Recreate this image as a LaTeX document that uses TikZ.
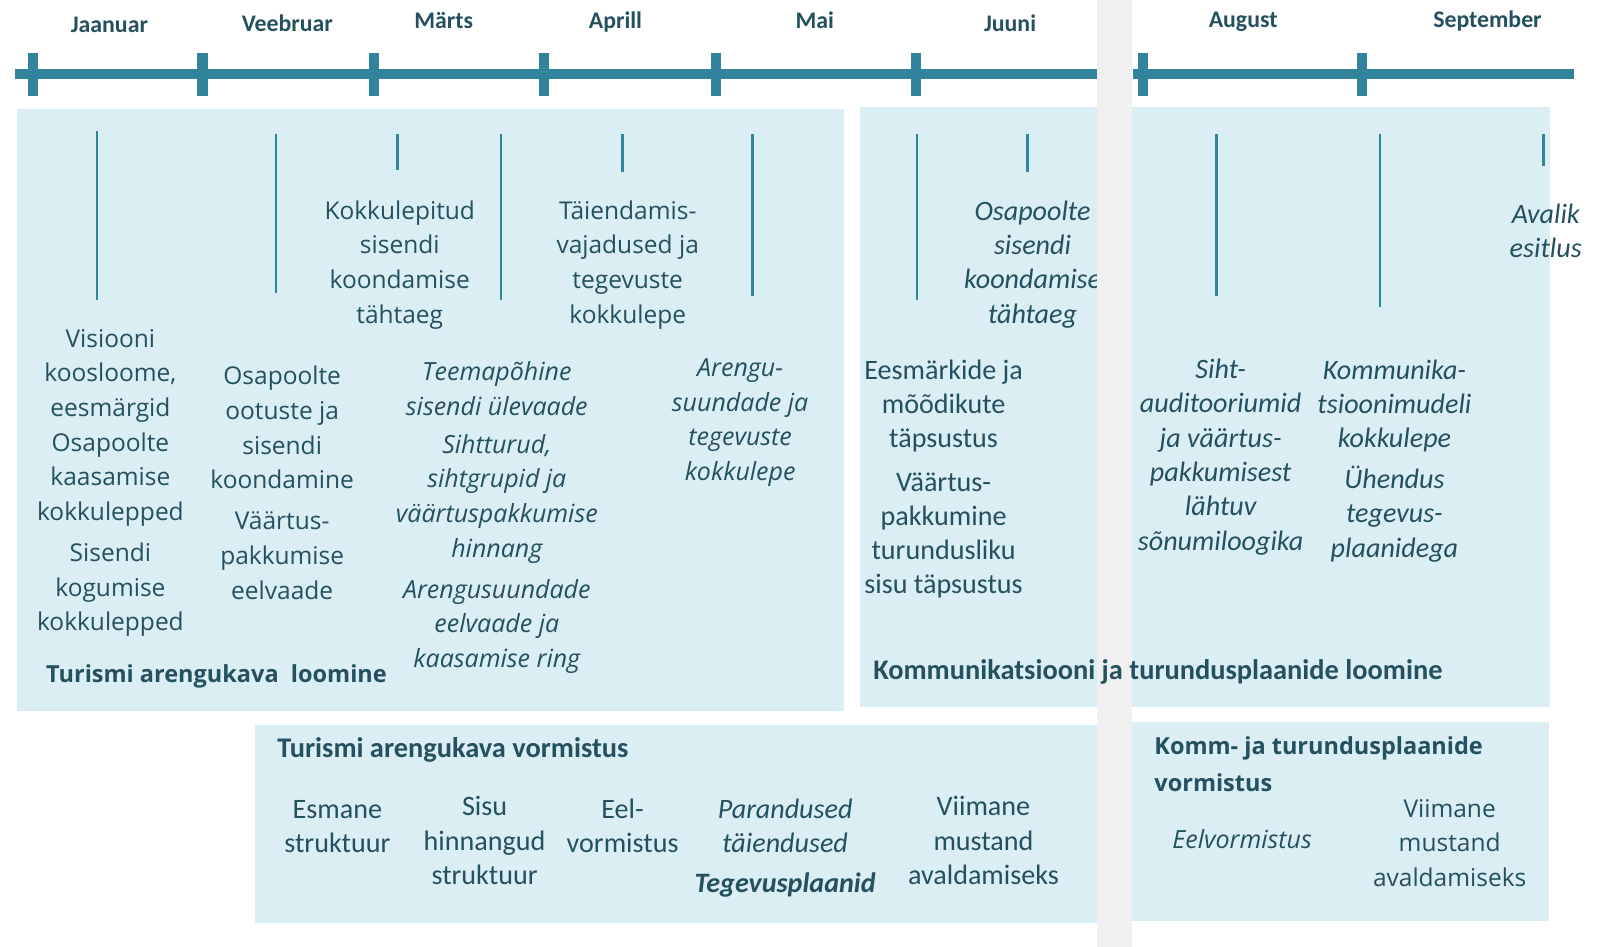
\documentclass[tikz,border=0pt]{standalone}
\usepackage{fontspec}
\setmainfont{Open Sans}
\newfontfamily\calfont{Carlito}
\usepackage{xcolor}
\usepackage{tikz}
\definecolor{barteal}{HTML}{31849B}
\definecolor{boxblue}{HTML}{DAEEF3}
\definecolor{bandgray}{HTML}{F0F0F0}
\definecolor{inktext}{HTML}{24505F}

\begin{document}
\begin{tikzpicture}[x=1.0223pt,y=-1.0223pt,
		every node/.style={inner sep=0pt,text=inktext},
		phasebox/.style={fill=boxblue},
		bar/.style={draw=barteal,line width=10.2pt},
		tick/.style={draw=barteal,line width=10.2pt},
		markline/.style={draw=barteal,line width=2.6pt},
		month/.style={font=\calfont\bfseries\fontsize{23.8pt}{28pt}\selectfont,anchor=base},
		os/.style={font=\fontsize{24.5pt}{34.6pt}\selectfont,align=center,anchor=base},
		osit/.style={font=\itshape\fontsize{25pt}{34.6pt}\selectfont,align=center,anchor=base},
		osbf/.style={font=\bfseries\fontsize{23.5pt}{36.8pt}\selectfont,align=left,anchor=base west},
		cal/.style={font=\calfont\fontsize{28.1pt}{34.3pt}\selectfont,align=center,anchor=base},
		calit/.style={font=\calfont\itshape\fontsize{28.1pt}{34.3pt}\selectfont,align=center,anchor=base},
		calbf/.style={font=\calfont\bfseries\fontsize{28.4pt}{34pt}\selectfont,anchor=base west}]
		\useasboundingbox (0,0) rectangle (1568,926);
		% light blue phase boxes
		\fill[phasebox] (17,107) rectangle (826,695);
		\fill[phasebox] (841,105) rectangle (1516,692);
		\fill[phasebox] (249,709) rectangle (1073,903);
		\fill[phasebox] (1107,706) rectangle (1515,901);
		% time line
		\draw[bar] (15,72) -- (1073,72);
		\draw[bar] (1108,72) -- (1540,72);
		\foreach \x in {32,198,366,532,700,896,1118,1332}
			\draw[tick] (\x,52) -- (\x,94);
		\node[month] (jan) at (107,32) {Jaanuar};
		\node[month] (feb) at (281,31) {Veebruar};
		\node[month] (mar) at (434,28) {Märts};
		\node[month] (apr) at (602,28) {Aprill};
		\node[month] (may) at (797,28) {Mai};
		\node[month] (jun) at (988,31) {Juuni};
		\node[month] (aug) at (1216,27) {August};
		\node[month] (sep) at (1455,27) {September};
		% marks
		\foreach \x/\ya/\yb in {95/128/293,270/131/287,389/131/166,490/131/293,609/131/168,736/131/290,897/131/293,1005/131/168,1190/131/290,1350/131/300,1510/131/162}
			\draw[markline] (\x,\ya) -- (\x,\yb);
		% arengukava loomine (nodes sit on their last line)
		\node[os] (kokku) at (391,316) {Kokkulepitud\\sisendi\\koondamise\\tähtaeg};
		\node[os] (taiend) at (614,316) {Täiendamis-\\vajadused ja\\tegevuste\\kokkulepe};
		\node[os] (visioon) at (108,509) {Visiooni\\koosloome,\\eesmärgid\\Osapoolte\\kaasamise\\kokkulepped};
		\node[os] (sisendi) at (108,617) {Sisendi\\kogumise\\kokkulepped};
		\node[os] (ootused) at (276,478) {Osapoolte\\ootuste ja\\sisendi\\koondamine};
		\node[os] (vaartus) at (276,586) {Väärtus-\\pakkumise\\eelvaade};
		\node[osit] (teema) at (486,406) {Teemapõhine\\sisendi ülevaade};
		\node[osit] (sihtturud) at (486,545) {Sihtturud,\\sihtgrupid ja\\väärtuspakkumise\\hinnang};
		\node[osit] (suunad) at (486,653) {Arengusuundade\\eelvaade ja\\kaasamise ring};
		\node[osit] (arengu) at (724,470) {Arengu-\\suundade ja\\tegevuste\\kokkulepe};
		\node[osbf] (loomine) at (45,668) {Turismi arengukava\ \ loomine};
		% kommunikatsioon
		\node[calit] (osasis) at (1010,316) {Osapoolte\\sisendi\\koondamise\\tähtaeg};
		\node[cal] (eesm) at (923,438) {Eesmärkide ja\\mõõdikute\\täpsustus};
		\node[cal] (pakkumine) at (923,581) {Väärtus-\\pakkumine\\turundusliku\\sisu täpsustus};
		\node[calit] (siht) at (1194,538) {Siht-\\auditooriumid\\ja väärtus-\\pakkumisest\\lähtuv\\sõnumiloogika};
		\node[calit] (mudel) at (1364,438) {Kommunika-\\tsioonimudeli\\kokkulepe};
		\node[calit] (uhendus) at (1364,545) {Ühendus\\tegevus-\\plaanidega};
		\node[calit] (avalik) at (1512,252) {Avalik\\esitlus};
		% vormistus
		\node[calbf] (vorm) at (271,741) {Turismi arengukava vormistus};
		\node[cal] (esmane) at (330,834) {Esmane\\struktuur};
		\node[cal] (sisu) at (474,865) {Sisu\\hinnangud\\struktuur};
		\node[cal] (eel) at (609,834) {Eel-\\vormistus};
		\node[calit] (parand) at (768,834) {Parandused\\täiendused};
		\node[calbf,font=\calfont\bfseries\itshape\fontsize{28.1pt}{34pt}\selectfont,anchor=base] (tegevus) at (768,873) {Tegevusplaanid};
		\node[cal] (viimane) at (962,865) {Viimane\\mustand\\avaldamiseks};
		\node[osbf] (kommvorm) at (1129,774) {Komm- ja turundusplaanide\\vormistus};
		\node[osit] (eelvorm) at (1215,830) {Eelvormistus};
		\node[os] (viimane2) at (1418,867) {Viimane\\mustand\\avaldamiseks};
		% gray band
		\fill[bandgray] (1073,0) rectangle (1107,926);
		\node[calbf] (kommloom) at (854,665) {Kommunikatsiooni ja turundusplaanide loomine};
\end{tikzpicture}
\end{document}
